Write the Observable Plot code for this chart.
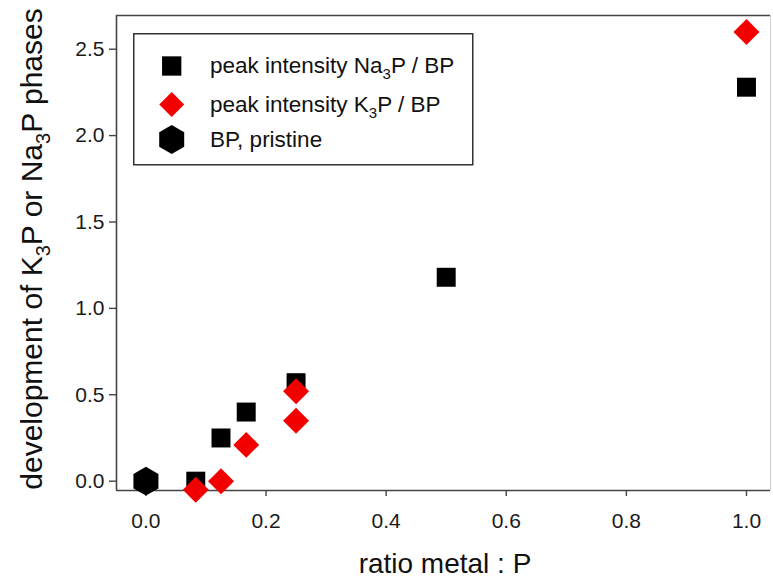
<!DOCTYPE html>
<html>
<head>
<meta charset="utf-8">
<script src="https://cdn.jsdelivr.net/npm/d3@7"></script>
<script src="https://cdn.jsdelivr.net/npm/@observablehq/plot@0.6"></script>
<style>
  body { margin: 0; background: #fff; }
  #wrap { position: relative; width: 773px; height: 579px; overflow: hidden; }
  #legend { position: absolute; left: 133px; top: 33px; }
</style>
</head>
<body>
<div id="wrap"></div>
<script>
// ---- data ----
const naRatio = [0.083, 0.125, 0.167, 0.25, 0.5, 1.0];
const naIntensity = [0.0, 0.25, 0.40, 0.57, 1.18, 2.28];
const kRatio = [0.083, 0.125, 0.167, 0.25, 0.25, 1.0];
const kIntensity = [-0.05, 0.0, 0.21, 0.52, 0.35, 2.6];
const pristineRatio = [0.0];
const pristineIntensity = [0.0];
const xTicks = [0, 0.2, 0.4, 0.6, 0.8, 1.0];
const yTicks = [0, 0.5, 1.0, 1.5, 2.0, 2.5];
const xDomain = [-0.049, 1.04];
const yDomain = [-0.054, 2.695];

const na = naRatio.map((x, i) => ({x, y: naIntensity[i]}));
const k = kRatio.map((x, i) => ({x, y: kIntensity[i]}));
const pristine = pristineRatio.map((x, i) => ({x, y: pristineIntensity[i]}));

const FONT = "'Liberation Sans', Arial, sans-serif";
const RED = "#f20000";

const chart = Plot.plot({
  width: 773,
  height: 579,
  marginLeft: 116,
  marginRight: 3,
  marginTop: 15,
  marginBottom: 89,
  style: {fontFamily: FONT, background: "white", color: "#1a1a1a", overflow: "visible"},
  x: {domain: xDomain},
  y: {domain: yDomain},
  marks: [
    Plot.ruleX([xDomain[1]], {stroke: "#d0d0d0", strokeWidth: 1}),
    Plot.ruleY([yDomain[1]], {stroke: "#444", strokeWidth: 1.6}),
    Plot.ruleX([xDomain[0]], {stroke: "#444", strokeWidth: 1.6}),
    Plot.ruleY([yDomain[0]], {stroke: "#444", strokeWidth: 1.6}),
    Plot.axisX({ticks: xTicks, tickFormat: d3.format(".1f"), tickSize: 6, tickPadding: 17,
      fontSize: 21, label: null, stroke: "#444", strokeWidth: 1.4}),
    Plot.axisY({ticks: yTicks, tickFormat: d3.format(".1f"), tickSize: 7, tickPadding: 5,
      fontSize: 21, label: null, stroke: "#444", strokeWidth: 1.4}),
    Plot.dot(na, {x: "x", y: "y", symbol: "square", r: 10.7, fill: "black"}),
    Plot.dot(k, {x: "x", y: "y", symbol: "diamond2", r: 11.7, fill: RED}),
    Plot.dot(pristine, {x: "x", y: "y", symbol: "hexagon", r: 12.5, fill: "black"})
  ]
});

document.getElementById("wrap").appendChild(chart);
const svg = d3.select(chart);

// subscripted text helper
function richText(sel, parts, size) {
  const shift = Math.round(size * 0.27);
  let lowered = false;
  for (const p of parts) {
    if (typeof p === "string") {
      const t = sel.append("tspan").text(p);
      if (lowered) { t.attr("dy", -shift); lowered = false; }
    } else {
      sel.append("tspan").attr("font-size", Math.round(size * 0.65)).attr("dy", shift).text(p.sub);
      lowered = true;
    }
  }
}

// y axis title
const yt = svg.append("text")
  .attr("transform", "translate(42,249) rotate(-90)")
  .attr("text-anchor", "middle")
  .attr("font-family", FONT)
  .attr("font-size", 30)
  .attr("fill", "#111");
richText(yt, ["development of K", {sub: "3"}, "P or Na", {sub: "3"}, "P phases"], 30);

// x axis title
svg.append("text")
  .attr("x", 445).attr("y", 573)
  .attr("text-anchor", "middle")
  .attr("font-family", FONT)
  .attr("font-size", 28)
  .attr("fill", "#111")
  .text("ratio metal : P");

// legend
const legend = d3.select("#wrap").append("svg")
  .attr("id", "legend")
  .attr("width", 341).attr("height", 133);
legend.append("rect")
  .attr("x", 0.75).attr("y", 0.75).attr("width", 339).attr("height", 131)
  .attr("fill", "white").attr("stroke", "#333").attr("stroke-width", 1.5);

const symArea = r => r * r * Math.PI;
const hexagon = {
  draw(ctx, size) {
    const rx = Math.sqrt(size / Math.PI), ry = rx * 2 / Math.sqrt(3), hy = ry / 2;
    ctx.moveTo(0, ry); ctx.lineTo(rx, hy); ctx.lineTo(rx, -hy);
    ctx.lineTo(0, -ry); ctx.lineTo(-rx, -hy); ctx.lineTo(-rx, hy); ctx.closePath();
  }
};
const legendItems = [
  {sym: d3.symbolSquare, r: 10.9, fill: "black", label: ["peak intensity Na", {sub: "3"}, "P / BP"]},
  {sym: d3.symbolDiamond2, r: 11.2, fill: RED, label: ["peak intensity K", {sub: "3"}, "P / BP"]},
  {sym: hexagon, r: 12.5, fill: "black", label: ["BP, pristine"]}
];
const rowY = [33, 71.5, 106.5];
legendItems.forEach((it, i) => {
  legend.append("path")
    .attr("d", d3.symbol(it.sym, symArea(it.r))())
    .attr("transform", `translate(38.7,${rowY[i]})`)
    .attr("fill", it.fill);
  const t = legend.append("text")
    .attr("x", 77).attr("y", rowY[i] + 7)
    .attr("font-family", FONT).attr("font-size", 22.5).attr("fill", "#111");
  richText(t, it.label, 22.5);
});
</script>
</body>
</html>
